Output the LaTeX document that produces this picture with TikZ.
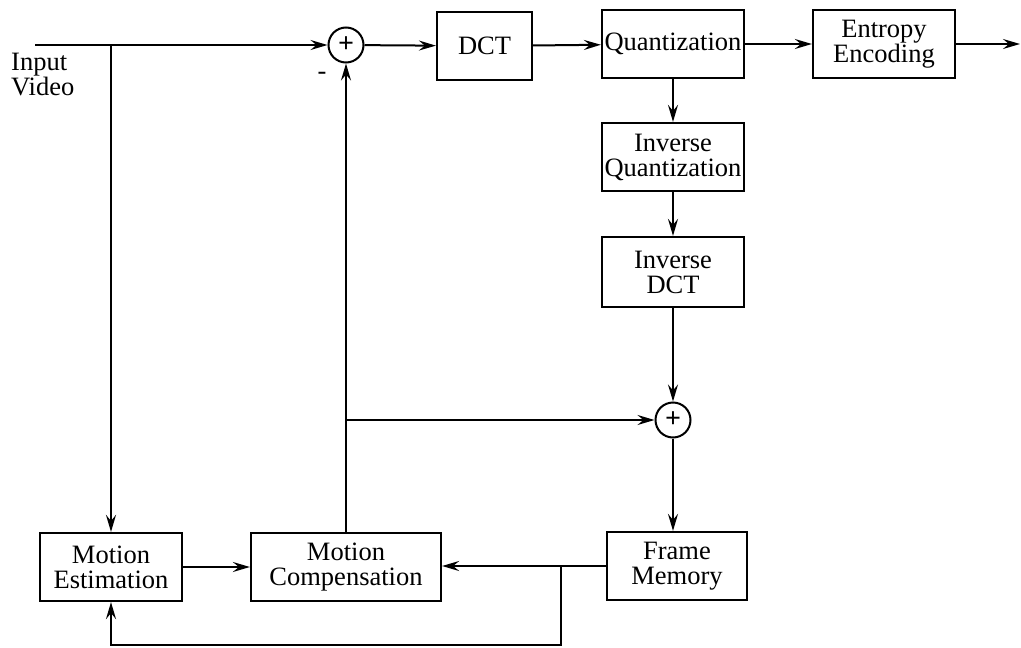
\documentclass[tikz,border=0pt]{standalone}
\usepackage{fontspec}
\setmainfont{Liberation Serif}
\usetikzlibrary{arrows.meta,calc}
\begin{document}
\begin{tikzpicture}[x=1pt,y=-1pt,
  blk/.style={draw,line width=2.2pt,inner sep=0pt,font=\fontsize{26.5}{25}\selectfont,align=center},
  sumc/.style={draw,circle,line width=2pt,minimum size=35pt,inner sep=0pt,font=\fontsize{28}{28}\selectfont\bfseries},
  conn/.style={line width=2pt},
  arr/.style={conn,-{Stealth[length=17pt,width=10pt,inset=6pt]}},
  lbl/.style={font=\fontsize{26.5}{20}\selectfont,align=left,inner sep=0pt}]
\useasboundingbox (0,0) rectangle (1021,648);
% nodes
\node[lbl,anchor=north west] (invid) at (11,53) {Input\\Video};
\coordinate (start) at (35,45);
\node[sumc] (s1) at (346,45) {+};
\node[lbl] (minus) at (322,76) {-};
\node[blk,minimum width=95pt,minimum height=68pt] (dct) at (484.5,46) {DCT};
\node[blk,minimum width=142pt,minimum height=68pt] (q) at (673,44) {Quantization};
\node[blk,minimum width=142pt,minimum height=68pt] (ent) at (884,44) {Entropy\\Encoding};
\coordinate (out) at (1020,44);
\node[blk,minimum width=142pt,minimum height=68pt] (iq) at (673,157) {Inverse\\Quantization};
\node[blk,minimum width=142pt,minimum height=70pt] (idct) at (673,272) {Inverse\\DCT};
\node[sumc] (s2) at (673,420) {+};
\node[blk,minimum width=140pt,minimum height=68pt] (fm) at (677,566) {Frame\\Memory};
\node[blk,minimum width=142pt,minimum height=68pt] (me) at (111,567) {Motion\\Estimation};
\node[blk,minimum width=190pt,minimum height=68pt] (mc) at (346,567) {Motion\\Compensation};
\coordinate (br1) at (me.north |- start);
\coordinate (br2) at (mc.north |- s2);
\coordinate (br3) at (561,566);
\coordinate (lp1) at (561,645);
\coordinate (lp2) at (me.south |- lp1);
% connectors
\draw[arr] (start) -- (s1);
\draw[arr] (br1) -- (me.north);
\draw[arr] (s1) -- (dct);
\draw[arr] (dct) -- (q);
\draw[arr] (q) -- (ent);
\draw[arr] (ent.east) -- (out);
\draw[arr] (q) -- (iq);
\draw[arr] (iq) -- (idct);
\draw[arr] (idct) -- (s2);
\draw[arr] (s2) -- (fm.north -| s2);
\draw[arr] (mc.north) -- (s1);
\draw[arr] (br2) -- (s2);
\draw[arr] (me) -- (mc);
\draw[arr] (fm.west) -- (mc.east |- fm.west);
\draw[arr] (br3) -- (lp1) -- (lp2) -- (me.south);
\end{tikzpicture}
\end{document}
